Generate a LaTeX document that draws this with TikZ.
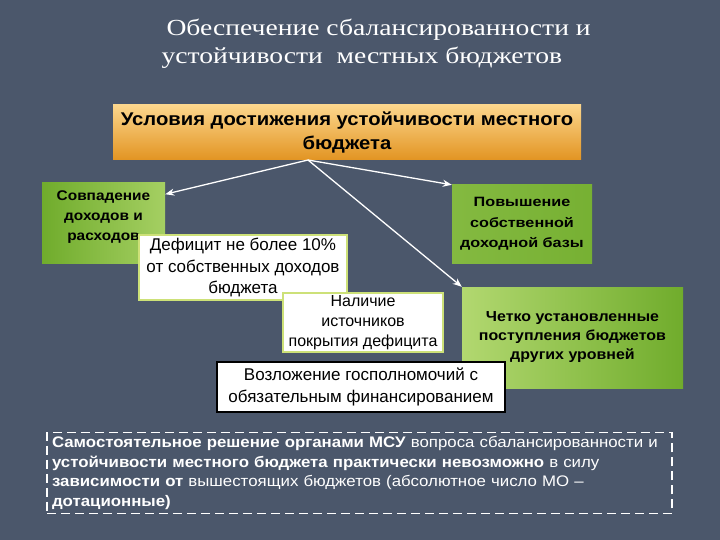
\documentclass[tikz,border=0pt]{standalone}
\usepackage{fontspec}
\setmainfont{Liberation Sans}
\newfontfamily\titlefont[FakeStretch=1.2]{Liberation Serif}
\newfontfamily\widesans[FakeStretch=1.1]{Liberation Sans}
\newfontfamily\widersans[FakeStretch=1.2]{Liberation Sans}
\usetikzlibrary{arrows.meta}

\definecolor{slate}{RGB}{75,87,107}
\definecolor{leaf}{RGB}{112,172,44}
\definecolor{lime}{RGB}{178,216,112}
\definecolor{amber}{RGB}{226,148,34}
\definecolor{sand}{RGB}{252,214,140}
\definecolor{rim}{RGB}{205,225,120}

\tikzset{
  greenbox/.style={minimum width=#1, align=center, inner sep=2pt,
    font=\widesans\fontsize{14}{20}\selectfont\bfseries},
  whitebox/.style={draw=rim, line width=1.5pt, fill=white, align=center,
    inner sep=2pt, font=\fontsize{17}{21.5}\selectfont},
}

\begin{document}
\begin{tikzpicture}[x=1pt, y=-1pt, >={Stealth[length=9pt,width=7pt]}]
        \fill[slate] (0,0) rectangle (720,540);
        \useasboundingbox (0,0) rectangle (720,540);

        \node[anchor=west, text=white, align=left,
              font=\titlefont\fontsize{23}{28}\selectfont] (title) at (158,44)
              {\hspace{5pt}Обеспечение сбалансированности и\\устойчивости \ местных бюджетов};

        \node[top color=sand, bottom color=amber, minimum width=468, minimum height=55,
              align=center, font=\widesans\fontsize{18.4}{24}\selectfont\bfseries] (cond) at (347,132.5)
              {Условия достижения устойчивости местного\\бюджета};

        \node[greenbox=123, minimum height=80, left color=leaf, right color=lime!80!leaf] (coin) at (103.5,223)
              {Совпадение\\доходов и\\расходов\\[-6pt]};
        \node[greenbox=140, minimum height=78, left color=leaf!70!lime, right color=leaf!90!lime,
              font=\widersans\fontsize{13.5}{20.5}\selectfont\bfseries] (rise) at (522,224)
              {Повышение\\собственной\\доходной базы};
        \node[greenbox=221, minimum height=101, left color=lime, right color=leaf,
              font=\widesans\fontsize{14.5}{19}\selectfont\bfseries] (clear) at (572.5,337.5)
              {Четко установленные\\поступления бюджетов\\других уровней};

        \node[whitebox, minimum width=208, minimum height=65] (deficit) at (243,267.5)
              {Дефицит не более 10\%\\от собственных доходов\\бюджета};
        \node[whitebox, minimum width=160, minimum height=59,
              font=\fontsize{16}{20}\selectfont] (source) at (363,322.5)
              {Наличие\\источников\\покрытия дефицита};
        \node[whitebox, draw=black, minimum width=288, minimum height=50] (duty) at (361,387)
              {Возложение госполномочий с\\обязательным финансированием};

        \coordinate (fork) at (308,160);
        \foreach \t in {coin.25, rise.north west, clear.north west} {
                \draw[->, white, line width=1.3pt] (fork) -- (\t);
            }

        \node[draw=white, dash pattern=on 9pt off 5pt, line width=1.5pt, text=white,
              minimum width=625, minimum height=80, text width=615, align=left, inner sep=4pt,
              font=\widesans\fontsize{15.3}{19.5}\selectfont] (note) at (359.5,473)
              {\textbf{Самостоятельное решение органами МСУ} вопроса сбалансированности и\\
               \textbf{устойчивости местного бюджета практически невозможно} в силу\\
               \textbf{зависимости от} вышестоящих бюджетов (абсолютное число МО –\\
               \textbf{дотационные)}};
    \end{tikzpicture}
\end{document}
